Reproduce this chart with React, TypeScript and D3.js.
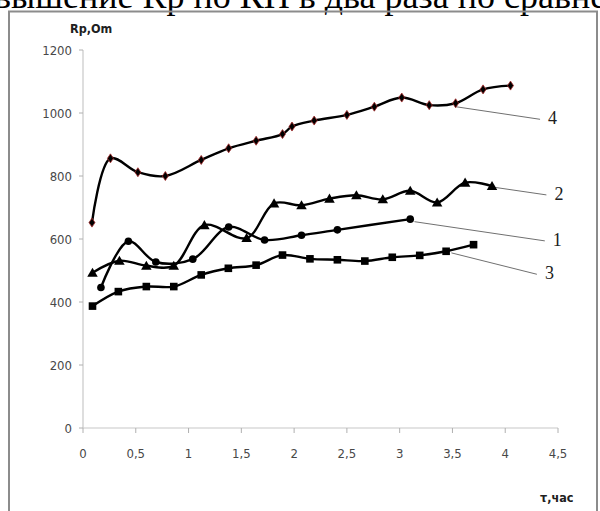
import React from "react";
import * as d3 from "d3";

// Measurement time, hours, and resistance Rp, Ohm, for four samples
const t1 = [0.17, 0.43, 0.69, 1.04, 1.38, 1.72, 2.07, 2.41, 3.1];
const rp1 = [446, 593, 527, 536, 638, 597, 612, 629, 663];

const t2 = [0.09, 0.345, 0.6, 0.86, 1.15, 1.55, 1.81, 2.07, 2.335, 2.59, 2.84, 3.1, 3.355, 3.62, 3.875];
const rp2 = [493, 531, 515, 515, 644, 603, 713, 707, 728, 739, 726, 753, 716, 779, 768];

const t3 = [0.09, 0.335, 0.6, 0.86, 1.12, 1.377, 1.64, 1.89, 2.15, 2.41, 2.67, 2.93, 3.19, 3.44, 3.7];
const rp3 = [387, 433, 449, 449, 486, 507, 517, 549, 537, 534, 530, 542, 548, 561, 582];

const t4 = [0.085, 0.26, 0.52, 0.78, 1.12, 1.38, 1.64, 1.89, 1.98, 2.19, 2.5, 2.76, 3.02, 3.28, 3.53, 3.79, 4.05];
const rp4 = [652, 856, 812, 800, 851, 888, 912, 933, 957, 976, 994, 1020, 1049, 1025, 1031, 1075, 1087];

const xTicks = [0, 0.5, 1, 1.5, 2, 2.5, 3, 3.5, 4, 4.5];
const yTicks = [0, 200, 400, 600, 800, 1000, 1200];

// Curve numbers with their leader lines (from, to) in data units
const curveNames = ["4", "2", "1", "3"];
const leaderFrom = [[3.53, 1020], [3.9, 764], [3.14, 655], [3.49, 556]];
const leaderTo = [[4.33, 980], [4.39, 740], [4.375, 594], [4.3, 488]];

const W = 600;
const H = 511;

const x = d3.scaleLinear().domain([0, 4.5]).range([83, 558]);
const y = d3.scaleLinear().domain([0, 1200]).range([428, 50]);

const line = d3
  .line<[number, number]>()
  .x((d) => x(d[0]))
  .y((d) => y(d[1]))
  .curve(d3.curveCatmullRom.alpha(0.5));

const zip = (a: number[], b: number[]) => a.map((v, i) => [v, b[i]] as [number, number]);

const axisFont = "'Liberation Sans Narrow', 'DejaVu Sans Condensed', 'Roboto', sans-serif";

function Marker({ kind, cx, cy }: { kind: string; cx: number; cy: number }) {
  if (kind === "circle") return <circle cx={cx} cy={cy} r={3.8} fill="#000" />;
  if (kind === "square") return <rect x={cx - 3.8} y={cy - 3.8} width={7.6} height={7.6} fill="#000" />;
  if (kind === "triangle")
    return (
      <path
        d={d3.symbol(d3.symbolTriangle, 48)()!}
        transform={`translate(${cx},${cy + 1})`}
        fill="#000"
      />
    );
  return (
    <path
      d={`M0,-4.5L3,0L0,4.5L-3,0Z`}
      transform={`translate(${cx},${cy})`}
      fill="#000"
      stroke="#a52a2a"
      strokeWidth={0.8}
    />
  );
}

const series = [
  { pts: zip(t1, rp1), kind: "circle" },
  { pts: zip(t2, rp2), kind: "triangle" },
  { pts: zip(t3, rp3), kind: "square" },
  { pts: zip(t4, rp4), kind: "diamond" },
];

export default function App() {
  return (
    <div style={{ position: "fixed", left: 0, top: 0, width: W, height: H, background: "#fff" }}>
      <svg width={W} height={H} style={{ display: "block" }}>
        <rect width={W} height={H} fill="#fff" />
        {/* last line of the surrounding text above the figure */}
        <text
          x={-6}
          y={8}
          fontFamily="'Liberation Serif', 'DejaVu Serif', serif"
          fontSize={36}
          fill="#000"
        >
          вышение  Rp по КН в два раза по сравнению
        </text>
        {/* chart frame */}
        <rect x={9} y={11.5} width={588} height={520} fill="none" stroke="#8c8c8c" strokeWidth={2} />

        {/* axes */}
        <line x1={x(0)} x2={x(0)} y1={y(1200)} y2={y(0)} stroke="#c8c8c8" strokeWidth={1.2} />
        <line x1={x(0)} x2={x(4.5)} y1={y(0)} y2={y(0)} stroke="#c8c8c8" strokeWidth={1.2} />
        {yTicks.map((v) => (
          <g key={"y" + v}>
            <line x1={x(0) - 4} x2={x(0)} y1={y(v)} y2={y(v)} stroke="#b0b0b0" />
            <text
              x={72}
              y={y(v) + 4.5}
              textAnchor="end"
              fontFamily={axisFont}
              fontSize={13}
              fill="#484848"
            >
              {v}
            </text>
          </g>
        ))}
        {xTicks.map((v) => (
          <g key={"x" + v}>
            <line x1={x(v)} x2={x(v)} y1={y(0)} y2={y(0) + 5} stroke="#b0b0b0" />
            <text
              x={x(v)}
              y={y(0) + 30}
              textAnchor="middle"
              fontFamily={axisFont}
              fontSize={13}
              fill="#484848"
            >
              {String(v).replace(".", ",")}
            </text>
          </g>
        ))}
        <text x={70} y={33} fontFamily={axisFont} fontSize={12.5} fontWeight="bold" fill="#202020">
          Rp,Om
        </text>
        <text x={540} y={502} fontFamily={axisFont} fontSize={12.5} fontWeight="bold" fill="#202020">
          τ,час
        </text>

        {/* leader lines and curve numbers */}
        {curveNames.map((n, i) => (
          <g key={"lab" + n}>
            <line
              x1={x(leaderFrom[i][0])}
              y1={y(leaderFrom[i][1])}
              x2={x(leaderTo[i][0])}
              y2={y(leaderTo[i][1])}
              stroke="#707070"
              strokeWidth={1}
            />
            <text
              x={x(leaderTo[i][0]) + 8}
              y={y(leaderTo[i][1]) + 5}
              fontFamily="'Liberation Serif', 'DejaVu Serif', serif"
              fontSize={18}
              fill="#202020"
            >
              {n}
            </text>
          </g>
        ))}

        {/* data curves */}
        {series.map((s, i) => (
          <g key={"s" + i}>
            <path d={line(s.pts)!} fill="none" stroke="#000" strokeWidth={2.4} />
            {s.pts.map((p, j) => (
              <Marker key={j} kind={s.kind} cx={x(p[0])} cy={y(p[1])} />
            ))}
          </g>
        ))}
      </svg>
    </div>
  );
}
